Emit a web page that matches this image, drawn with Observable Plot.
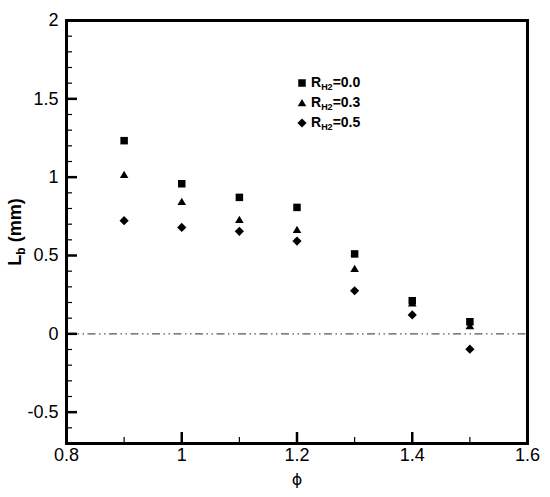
<!DOCTYPE html>
<html><head><meta charset="utf-8">
<script src="https://cdn.jsdelivr.net/npm/d3@7"></script>
<script src="https://cdn.jsdelivr.net/npm/@observablehq/plot@0.6"></script>
<style>
body{margin:0;background:#fff;font-family:"Liberation Sans",Arial,sans-serif}
#wrap{position:relative;width:550px;height:497px}
#wrap svg{display:block}
.ov{position:absolute;color:#000;white-space:nowrap;line-height:1}
#ylab{left:16px;top:232px;transform:translate(-50%,-50%) rotate(-90deg);font-weight:bold;font-size:18px}
#xlab{left:297px;top:480px;transform:translate(-50%,-50%);font-size:16px;font-family:"DejaVu Sans",sans-serif}
#legend{left:296px;top:73px;font-weight:bold;font-size:14px}
.item{display:flex;align-items:center;height:20px}
.item svg{margin-right:3px}
sub{font-size:9px;vertical-align:-3px}
</style></head><body><div id="wrap"></div>
<script>
const phi = [0.9, 1.0, 1.1, 1.2, 1.3, 1.4, 1.5];
const lbR00 = [1.233, 0.958, 0.871, 0.807, 0.510, 0.211, 0.077];
const lbR03 = [1.016, 0.843, 0.728, 0.664, 0.415, 0.195, 0.050];
const lbR05 = [0.722, 0.679, 0.654, 0.592, 0.275, 0.121, -0.098];
const seriesNames = ["0.0", "0.3", "0.5"];
const xMajor = [0.8, 1, 1.2, 1.4, 1.6];
const xMinor = [0.9, 1.1, 1.3, 1.5];
const yMajor = [-0.5, 0, 0.5, 1, 1.5, 2];
const yMinor = [-0.6, -0.4, -0.3, -0.2, -0.1, 0.1, 0.2, 0.3, 0.4, 0.6, 0.7, 0.8, 0.9, 1.1, 1.2, 1.3, 1.4, 1.6, 1.7, 1.8, 1.9];

const shapes = [
  {draw(c){c.moveTo(-3.75,-3.75);c.lineTo(3.75,-3.75);c.lineTo(3.75,3.75);c.lineTo(-3.75,3.75);c.closePath();}},
  {draw(c){c.moveTo(0,-4);c.lineTo(4.3,3.3);c.lineTo(-4.3,3.3);c.closePath();}},
  {draw(c){c.moveTo(0,-4.6);c.lineTo(4.6,0);c.lineTo(0,4.6);c.lineTo(-4.6,0);c.closePath();}}
];

const series = [lbR00, lbR03, lbR05];
const rows = [];
series.forEach((vals, s) => vals.forEach((v, i) => rows.push({phi: phi[i], lb: v, R: seriesNames[s]})));

const plot = Plot.plot({
  width: 550, height: 497,
  marginLeft: 66, marginRight: 23, marginTop: 20, marginBottom: 54,
  style: {fontFamily: "Liberation Sans, Arial, sans-serif", fontSize: "18px", background: "white", color: "black"},
  x: {domain: [0.8, 1.6]},
  y: {domain: [-0.7, 2]},
  symbol: {domain: seriesNames, range: shapes},
  marks: [
    Plot.ruleY([0], {stroke: "#555", strokeWidth: 1.2, strokeDasharray: "8,3.5,1.5,3.5,1.5,3.5"}),
    Plot.axisY(yMajor, {anchor: "left", tickSize: 11, dx: 11, strokeWidth: 2.5, fill: "none", label: null}),
    Plot.axisY(yMinor, {anchor: "left", tickSize: 6, dx: 6, strokeWidth: 1.2, fill: "none", label: null}),
    Plot.axisY(yMajor, {anchor: "left", tickSize: 0, tickPadding: 8, tickFormat: d => String(d), fill: "black", label: null}),
    Plot.axisX(xMajor, {anchor: "bottom", tickSize: 11, dy: -11, strokeWidth: 2.5, fill: "none", label: null}),
    Plot.axisX(xMinor, {anchor: "bottom", tickSize: 6, dy: -6, strokeWidth: 1.2, fill: "none", label: null}),
    Plot.axisX(xMajor, {anchor: "bottom", tickSize: 0, tickPadding: 5, tickFormat: d => String(d), fill: "black", label: null}),
    Plot.dot(rows, {x: "phi", y: "lb", symbol: "R", fill: "black", stroke: "none"}),
    Plot.frame({stroke: "black", strokeWidth: 3})
  ]
});
const wrap = document.getElementById("wrap");
wrap.appendChild(plot);

const ylab = document.createElement("div");
ylab.className = "ov"; ylab.id = "ylab";
ylab.innerHTML = "L<sub style='font-size:12px;vertical-align:-4px'>b</sub> (mm)";
wrap.appendChild(ylab);

const xlab = document.createElement("div");
xlab.className = "ov"; xlab.id = "xlab";
xlab.textContent = "ϕ";
wrap.appendChild(xlab);

const legend = document.createElement("div");
legend.className = "ov"; legend.id = "legend";
seriesNames.forEach((n, i) => {
  const item = document.createElement("div");
  item.className = "item";
  const p = d3.path(); shapes[i].draw(p);
  item.innerHTML = `<svg width="12" height="12" viewBox="-6 -6 12 12"><path d="${p}" fill="black"/></svg><span>R<sub>H2</sub>=${n}</span>`;
  legend.appendChild(item);
});
wrap.appendChild(legend);
</script>
</body></html>
